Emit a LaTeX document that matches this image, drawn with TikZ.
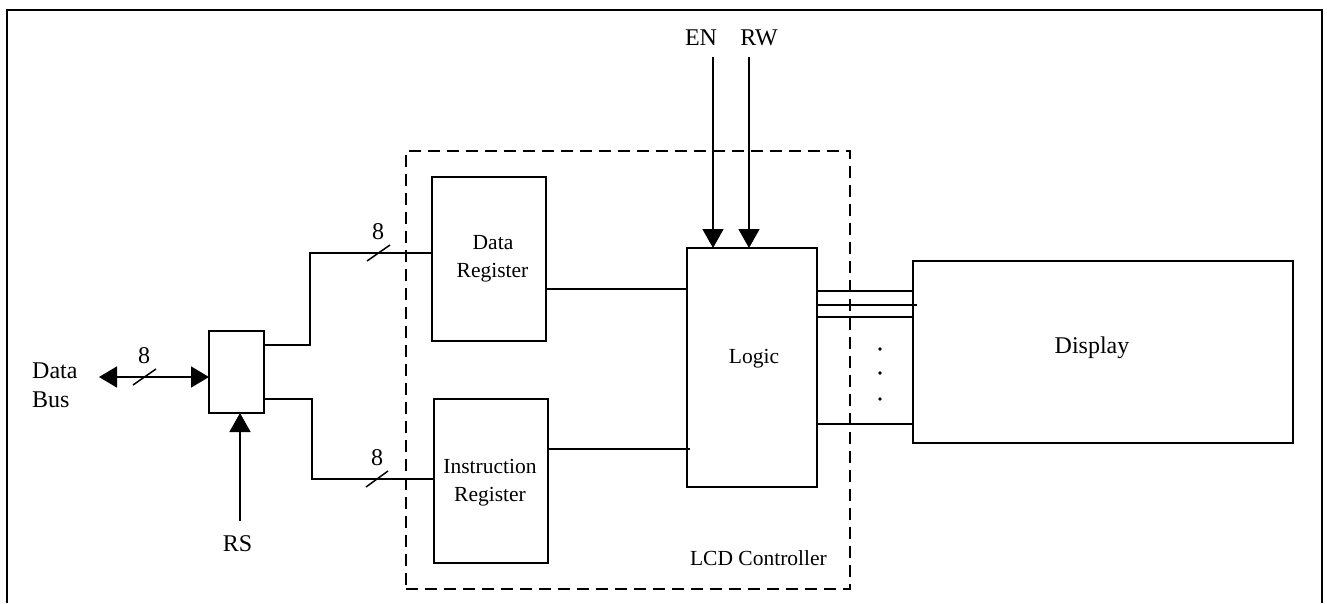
\documentclass[tikz,border=0pt]{standalone}
\usepackage{fontspec}
\setmainfont{Liberation Serif}
\usetikzlibrary{arrows.meta,calc}
\newcommand\fbig{\fontsize{24}{28}\selectfont}
\newcommand\fsmall{\fontsize{21.5}{26}\selectfont}
\begin{document}
\begin{tikzpicture}[x=1pt,y=-1pt,
  box/.style={draw,line width=1.5pt,inner sep=0pt,outer sep=0pt,rectangle},
  wire/.style={line width=1.5pt},
  arr/.style={line width=1.5pt,-{Triangle[length=19pt,width=21pt]}},
  darr/.style={line width=1.5pt,{Triangle[length=18pt,width=21pt]}-{Triangle[length=18pt,width=21pt]}},
  txt/.style={anchor=base,inner sep=0pt,font=\fbig},
  stxt/.style={anchor=base,inner sep=0pt,font=\fsmall}]
\useasboundingbox (0,0) rectangle (1327,603);
% outer frame
\draw[line width=2.5pt] (7,603) -- (7,10) -- (1322,10) -- (1322,603);
% dashed controller boundary
\node[box,dash pattern=on 12pt off 7pt,minimum width=444pt,minimum height=438pt] (ctrl) at (628,370) {};
\node[stxt,anchor=base east] (ctrllbl) at (827,565) {LCD Controller};
% boxes
\node[box,minimum width=55pt,minimum height=82pt] (mux) at (236.5,372) {};
\node[box,minimum width=114pt,minimum height=164pt] (dr) at (489,259) {};
\node[box,minimum width=114pt,minimum height=164pt] (ir) at (491,481) {};
\node[box,minimum width=130pt,minimum height=239pt] (logic) at (752,367.5) {};
\node[box,minimum width=380pt,minimum height=182pt] (disp) at (1103,352) {};
% box texts
\node[stxt] (dr1) at (493,249) {Data};
\node[stxt] (dr2) at (492.5,277) {Register};
\node[stxt] (ir1) at (490,473) {Instruction};
\node[stxt] (ir2) at (490,501) {Register};
\node[stxt] (logiclbl) at (754,363) {Logic};
\node[txt] (displbl) at (1092,353) {Display};
% data bus
\node[txt,anchor=base west] (db1) at (32,378) {Data};
\node[txt,anchor=base west] (db2) at (32,407) {Bus};
\coordinate (dbl) at (99,377);
\draw[darr] (dbl) -- (dbl -| mux.west);
\draw[wire] (133,385) -- (156,369);
\node[txt] (n8a) at (144,363) {8};
% RS
\coordinate (rsb) at (240,521);
\draw[arr] (rsb) -- (rsb |- mux.south);
\node[txt] (rslbl) at (237.5,551) {RS};
% mux to data register
\coordinate (t1) at (310,345);
\coordinate (t2) at (310,253);
\draw[wire] (t1 -| mux.east) -- (t1) -- (t2) -- (t2 -| dr.west);
\draw[wire] (367,261) -- (390,245);
\node[txt] (n8b) at (378,239) {8};
% mux to instruction register
\coordinate (b1) at (312,399);
\coordinate (b2) at (312,479);
\draw[wire] (b1 -| mux.east) -- (b1) -- (b2) -- (b2 -| ir.west);
\draw[wire] (366,487) -- (388,471);
\node[txt] (n8c) at (377,465) {8};
% registers to logic
\draw[wire] ($(dr.east)+(0,30)$) coordinate (dro) -- (dro -| logic.west);
\draw[wire] ($(ir.east)+(0,-32)$) coordinate (iro) -- ($(iro -| logic.west)+(3,0)$);
% EN RW
\node[txt] (enlbl) at (701,45) {EN};
\node[txt] (rwlbl) at (759,45) {RW};
\coordinate (ent) at (713,57);
\coordinate (rwt) at (749,57);
\draw[arr] (ent) -- (ent |- logic.north);
\draw[arr] (rwt) -- (rwt |- logic.north);
% logic to display
\draw[wire] ($(logic.east)+(0,-76.5)$) coordinate (l1) -- (l1 -| disp.west);
\draw[wire] ($(logic.east)+(0,-62.5)$) coordinate (l2) -- ($(l2 -| disp.west)+(4,0)$);
\draw[wire] ($(logic.east)+(0,-50.5)$) coordinate (l3) -- (l3 -| disp.west);
\draw[wire] ($(logic.east)+(0,56.5)$) coordinate (l4) -- (l4 -| disp.west);
\fill (880,349) circle (1.8pt);
\fill (880,373) circle (1.8pt);
\fill (880,399) circle (1.8pt);
\end{tikzpicture}
\end{document}
